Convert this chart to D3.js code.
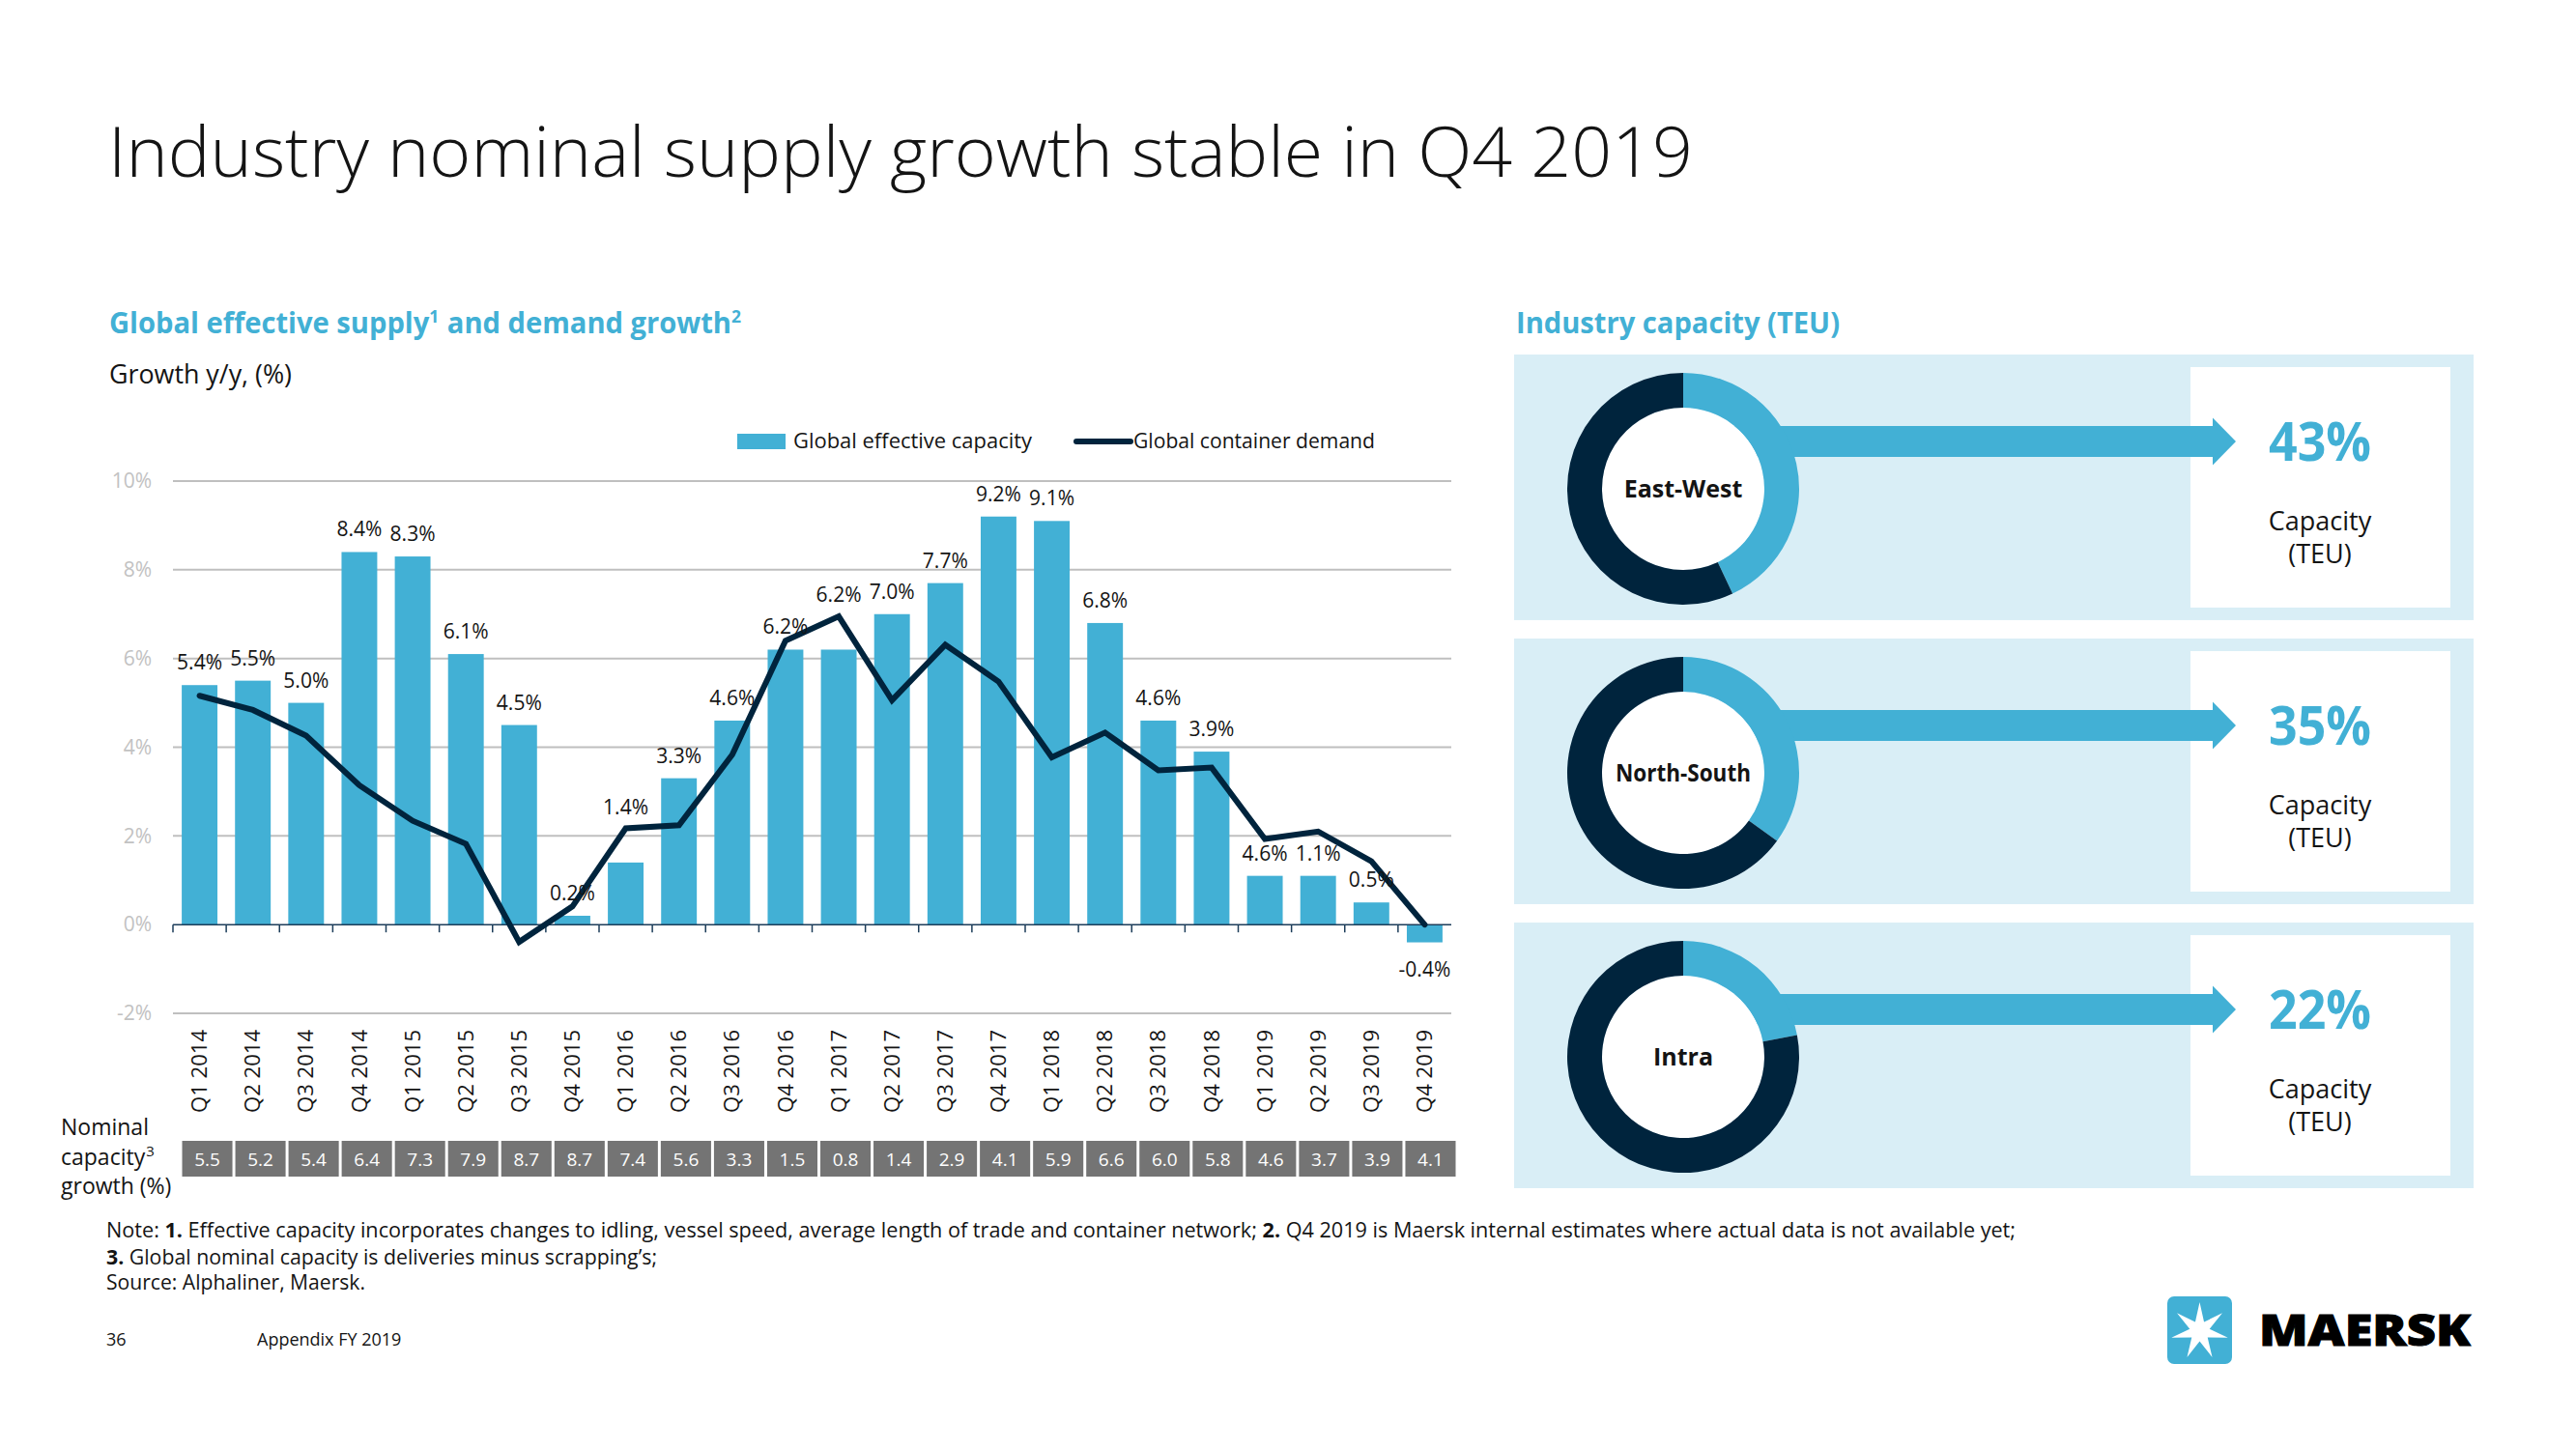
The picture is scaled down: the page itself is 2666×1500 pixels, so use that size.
<!DOCTYPE html>
<html>
<head>
<meta charset="utf-8">
<script src="https://cdn.jsdelivr.net/npm/d3@7"></script>
<style>
  html, body { margin: 0; padding: 0; background: #ffffff; }
  svg { display: block; }
  text { font-family: "Open Sans", "Noto Sans", sans-serif; }
</style>
</head>
<body>
<svg id="chart" width="2666" height="1500"></svg>
<script>
// ---------------- DATA ----------------
const categories = ["Q1 2014","Q2 2014","Q3 2014","Q4 2014","Q1 2015","Q2 2015","Q3 2015","Q4 2015",
  "Q1 2016","Q2 2016","Q3 2016","Q4 2016","Q1 2017","Q2 2017","Q3 2017","Q4 2017",
  "Q1 2018","Q2 2018","Q3 2018","Q4 2018","Q1 2019","Q2 2019","Q3 2019","Q4 2019"];
const effectiveCapacity = [5.4,5.5,5.0,8.4,8.3,6.1,4.5,0.2,1.4,3.3,4.6,6.2,6.2,7.0,7.7,9.2,9.1,6.8,4.6,3.9,1.1,1.1,0.5,-0.4];
const capacityLabels = ["5.4%","5.5%","5.0%","8.4%","8.3%","6.1%","4.5%","0.2%","1.4%","3.3%","4.6%","6.2%",
  "6.2%","7.0%","7.7%","9.2%","9.1%","6.8%","4.6%","3.9%","4.6%","1.1%","0.5%","-0.4%"];
const containerDemand = [5.16,4.84,4.26,3.14,2.34,1.82,-0.39,0.41,2.17,2.24,3.83,6.40,6.95,5.06,6.31,5.48,3.77,4.33,3.48,3.54,1.93,2.10,1.43,0.00];
const nominalCapacity = ["5.5","5.2","5.4","6.4","7.3","7.9","8.7","8.7","7.4","5.6","3.3","1.5","0.8","1.4","2.9","4.1","5.9","6.6","6.0","5.8","4.6","3.7","3.9","4.1"];
const labelsAboveLine = ["Q1 2016","Q1 2017"];
const yTicks = [-2,0,2,4,6,8,10];
const seriesNames = ["Global effective capacity","Global container demand"];
const regions = ["East-West","North-South","Intra"];
const regionShares = [43,35,22];

// ---------------- STYLE ----------------
const BLUE = "#42b0d5", NAVY = "#00243d", TXT = "#141414";

const svg = d3.select("#chart");

// Title
svg.append("text").attr("x",112).attr("y",183)
  .attr("font-size",72).attr("font-weight",300).attr("fill",TXT)
  .attr("textLength",1640).attr("lengthAdjust","spacingAndGlyphs")
  .text("Industry nominal supply growth stable in Q4 2019");

// Helper: a run of text pieces laid out side by side, then squeezed to a target width
function textRun(x0, y0, targetWidth, pieces, baseSize, weight, color) {
  const g = svg.append("g");
  let cx = 0;
  pieces.forEach(p => {
    if (p.gap) cx += p.gap * baseSize;
    const t = g.append("text").attr("x",cx).attr("y",p.sup ? -baseSize*0.36 : 0)
      .attr("font-size",p.sup ? baseSize*0.6 : baseSize)
      .attr("font-weight",weight).attr("fill",color).text(p.t);
    cx += t.node().getComputedTextLength() + (p.sup ? 1 : 0);
  });
  const sx = targetWidth / cx;
  g.attr("transform",`translate(${x0},${y0}) scale(${sx},1)`);
  return g;
}

// Left subtitle
textRun(113, 345, 655, [
  {t:"Global effective supply"},{t:"1",sup:true},{t:"and demand growth",gap:0.26},{t:"2",sup:true}
], 31, 700, BLUE);

svg.append("text").attr("x",113).attr("y",397)
  .attr("font-size",27).attr("fill",TXT)
  .attr("textLength",189).attr("lengthAdjust","spacingAndGlyphs")
  .text("Growth y/y, (%)");

// ---------------- BAR/LINE CHART ----------------
const x = d3.scaleBand().domain(categories).range([179,1502]).paddingInner(0.33).paddingOuter(0.165);
const xStep = d3.scaleBand().domain(categories).range([179,1502]);
const y = d3.scaleLinear().domain([-2,10]).range([1049,498]);

// gridlines
const grid = svg.append("g");
grid.selectAll("line").data(yTicks.filter(d => d !== 0)).join("line")
  .attr("x1",179).attr("x2",1502)
  .attr("y1",d => y(d)).attr("y2",d => y(d))
  .attr("stroke","#bfbfbf").attr("stroke-width",2);

// y tick labels via axis
const yAxis = svg.append("g").attr("transform","translate(179,0)")
  .call(d3.axisLeft(y).tickValues(yTicks).tickFormat(d => d + "%").tickSize(0).tickPadding(22));
yAxis.select(".domain").remove();
yAxis.selectAll("text").attr("font-size",21).attr("fill","#c2c2c2")
  .attr("font-family","'Open Sans', sans-serif");

// bars
svg.append("g").selectAll("rect").data(categories).join("rect")
  .attr("x",d => x(d))
  .attr("width",x.bandwidth())
  .attr("y",(d,i) => y(Math.max(0,effectiveCapacity[i])))
  .attr("height",(d,i) => Math.abs(y(effectiveCapacity[i]) - y(0)))
  .attr("fill",BLUE);

// zero axis with ticks at band boundaries
const zeroAxis = svg.append("g");
zeroAxis.append("line").attr("x1",179).attr("x2",1502).attr("y1",y(0)).attr("y2",y(0))
  .attr("stroke","#1c3d5a").attr("stroke-width",1.5);
zeroAxis.selectAll("line.tick").data(categories.slice(1)).join("line").attr("class","tick")
  .attr("x1",d => xStep(d)).attr("x2",d => xStep(d))
  .attr("y1",y(0)).attr("y2",y(0)+8)
  .attr("stroke","#1c3d5a").attr("stroke-width",1.5);
zeroAxis.append("line").attr("x1",179).attr("x2",179).attr("y1",y(0)).attr("y2",y(0)+8)
  .attr("stroke","#1c3d5a").attr("stroke-width",1.5);

// demand line
const line = d3.line().x((d,i) => x(categories[i]) + x.bandwidth()/2).y(d => y(d));
svg.append("path").datum(containerDemand).attr("d",line)
  .attr("fill","none").attr("stroke",NAVY).attr("stroke-width",6)
  .attr("stroke-linejoin","miter").attr("stroke-linecap","round");

// data labels
svg.append("g").selectAll("text").data(categories).join("text")
  .attr("x",d => x(d) + x.bandwidth()/2)
  .attr("y",(d,i) => {
    const v = effectiveCapacity[i];
    if (v < 0) return y(v) + 35;
    if (labelsAboveLine.includes(d)) return y(containerDemand[i]) - 15;
    return y(v) - 16;
  })
  .attr("text-anchor","middle").attr("font-size",21).attr("fill",TXT)
  .text((d,i) => capacityLabels[i]);

// legend
const lg = svg.append("g");
lg.append("rect").attr("x",763).attr("y",449).attr("width",50).attr("height",16).attr("fill",BLUE);
lg.append("text").attr("x",821).attr("y",464).attr("font-size",21).attr("fill",TXT)
  .attr("textLength",247).attr("lengthAdjust","spacingAndGlyphs").text(seriesNames[0]);
lg.append("line").attr("x1",1114).attr("x2",1170).attr("y1",457).attr("y2",457)
  .attr("stroke",NAVY).attr("stroke-width",6).attr("stroke-linecap","round");
lg.append("text").attr("x",1173).attr("y",464).attr("font-size",21).attr("fill",TXT)
  .attr("textLength",250).attr("lengthAdjust","spacingAndGlyphs").text(seriesNames[1]);

// x category labels (rotated)
svg.append("g").selectAll("text").data(categories).join("text")
  .attr("transform",d => `translate(${x(d) + x.bandwidth()/2},1066) rotate(-90)`)
  .attr("text-anchor","end").attr("dy","0.36em")
  .attr("font-size",21).attr("fill",TXT)
  .attr("textLength",86).attr("lengthAdjust","spacingAndGlyphs")
  .text(d => d);

// nominal capacity row
const boxes = svg.append("g");
const xb = d3.scaleBand().domain(categories).range([187,1508]);
boxes.selectAll("rect").data(categories).join("rect")
  .attr("x",d => xb(d) + 1.5).attr("width",xb.bandwidth() - 3)
  .attr("y",1181).attr("height",37).attr("fill","#747474");
boxes.selectAll("text").data(categories).join("text")
  .attr("x",d => xb(d) + xb.bandwidth()/2).attr("y",1200).attr("dy","0.36em")
  .attr("text-anchor","middle").attr("font-size",19).attr("fill","#ffffff")
  .text((d,i) => nominalCapacity[i]);

const nl = svg.append("g").attr("font-size",23).attr("fill",TXT);
nl.append("text").attr("x",63).attr("y",1175).attr("font-size",23).attr("fill",TXT).text("Nominal");
const capT = nl.append("text").attr("x",63).attr("y",1206).attr("font-size",23).attr("fill",TXT).text("capacity");
nl.append("text").attr("x",63 + capT.node().getComputedTextLength() + 1).attr("y",1197)
  .attr("font-size",15).attr("fill",TXT).text("3");
nl.append("text").attr("x",63).attr("y",1236).attr("font-size",23).attr("fill",TXT).text("growth (%)");

// ---------------- RIGHT PANEL ----------------
svg.append("text").attr("x",1569).attr("y",345)
  .attr("font-size",31).attr("font-weight",700).attr("fill",BLUE)
  .attr("textLength",335).attr("lengthAdjust","spacingAndGlyphs")
  .text("Industry capacity (TEU)");

const panelTop = d3.scaleBand().domain(regions).range([367,1230]).paddingInner(0.065);
const arc = d3.arc().innerRadius(84).outerRadius(120);
regions.forEach((r,i) => {
  const top = panelTop(r), h = panelTop.bandwidth();
  const g = svg.append("g");
  g.append("rect").attr("x",1567).attr("y",top).attr("width",993).attr("height",h).attr("fill","#d9eef6");
  g.append("rect").attr("x",2267).attr("y",top + 13).attr("width",269).attr("height",h - 26).attr("fill","#ffffff");
  const cy = top + 139, cx = 1742, ay = cy - 49;
  // arrow (behind donut)
  g.append("path").attr("d",`M${cx},${ay-16} L2290,${ay-16} L2290,${ay-24.5} L2314,${ay} L2290,${ay+24.5} L2290,${ay+16} L${cx},${ay+16} Z`)
    .attr("fill",BLUE);
  // donut
  const share = regionShares[i] / 100;
  const dg = g.append("g").attr("transform",`translate(${cx},${cy})`);
  dg.append("circle").attr("r",84).attr("fill","#ffffff");
  dg.append("path").attr("d",arc({startAngle:0,endAngle:share*2*Math.PI})).attr("fill",BLUE);
  dg.append("path").attr("d",arc({startAngle:share*2*Math.PI,endAngle:2*Math.PI})).attr("fill",NAVY);
  const lt = dg.append("text").attr("text-anchor","middle").attr("dy","0.36em")
    .attr("font-size",25).attr("font-weight",700).attr("fill",TXT).text(r);
  const maxW = 140;
  if (lt.node().getComputedTextLength() > maxW) lt.attr("textLength",maxW).attr("lengthAdjust","spacingAndGlyphs");
  // values
  g.append("text").attr("x",2401).attr("y",ay).attr("dy","0.36em").attr("text-anchor","middle")
    .attr("font-size",56).attr("font-weight",700).attr("fill",BLUE)
    .attr("textLength",106).attr("lengthAdjust","spacingAndGlyphs")
    .text(regionShares[i] + "%");
  g.append("text").attr("x",2401).attr("y",ay + 82).attr("dy","0.36em").attr("text-anchor","middle")
    .attr("font-size",27).attr("fill",TXT).text("Capacity");
  g.append("text").attr("x",2401).attr("y",ay + 116).attr("dy","0.36em").attr("text-anchor","middle")
    .attr("font-size",27).attr("fill",TXT).text("(TEU)");
});

// ---------------- NOTES ----------------
const n1 = svg.append("text").attr("x",110).attr("y",1281).attr("font-size",21).attr("fill",TXT)
  .attr("textLength",1976).attr("lengthAdjust","spacingAndGlyphs");
n1.append("tspan").text("Note: ");
n1.append("tspan").attr("font-weight",700).text("1.");
n1.append("tspan").text(" Effective capacity incorporates changes to idling, vessel speed, average length of trade and container network; ");
n1.append("tspan").attr("font-weight",700).text("2.");
n1.append("tspan").text(" Q4 2019 is Maersk internal estimates where actual data is not available yet;");
const n2 = svg.append("text").attr("x",110).attr("y",1309).attr("font-size",21).attr("fill",TXT)
  .attr("textLength",570).attr("lengthAdjust","spacingAndGlyphs");
n2.append("tspan").attr("font-weight",700).text("3.");
n2.append("tspan").text(" Global nominal capacity is deliveries minus scrapping’s;");
svg.append("text").attr("x",110).attr("y",1335).attr("font-size",21).attr("fill",TXT)
  .attr("textLength",268).attr("lengthAdjust","spacingAndGlyphs").text("Source: Alphaliner, Maersk.");

svg.append("text").attr("x",110).attr("y",1393).attr("font-size",18).attr("fill",TXT).text("36");
svg.append("text").attr("x",266).attr("y",1393).attr("font-size",18).attr("fill",TXT).text("Appendix FY 2019");

// ---------------- LOGO ----------------
const logo = svg.append("g");
logo.append("rect").attr("x",2243).attr("y",1342).attr("width",67).attr("height",70).attr("rx",7).attr("fill",BLUE);
const starPts = d3.range(14).map(k => {
  const a = -Math.PI/2 + k * Math.PI / 7;
  const rr = k % 2 === 0 ? 30 : 10.5;
  return [2276.5 + rr*Math.cos(a), 1378 + rr*Math.sin(a)];
});
logo.append("polygon").attr("points",starPts.map(p => p.join(",")).join(" ")).attr("fill","#ffffff");
logo.append("text").attr("x",2338).attr("y",1393).attr("font-size",44).attr("font-weight",900)
  .attr("font-family","'DejaVu Sans', 'Liberation Sans', Arial, sans-serif").attr("fill","#000000")
  .attr("stroke","#000000").attr("stroke-width",1)
  .attr("textLength",219).attr("lengthAdjust","spacingAndGlyphs").text("MAERSK");
</script>
</body>
</html>
